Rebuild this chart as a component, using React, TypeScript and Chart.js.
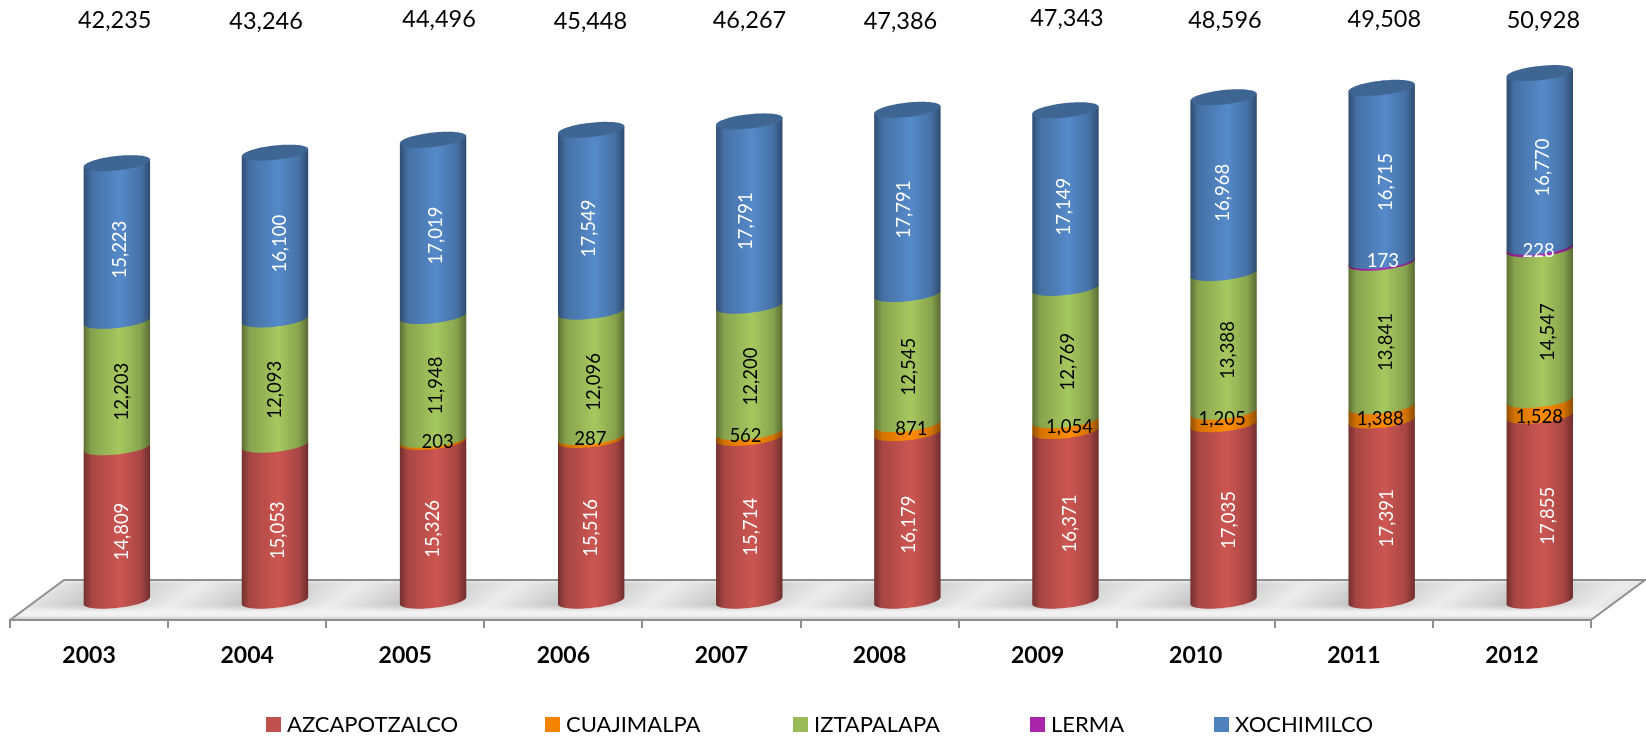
import React, { useEffect, useRef } from "react";
import { Chart, registerables } from "chart.js";

Chart.register(...registerables);

const years = ["2003", "2004", "2005", "2006", "2007", "2008", "2009", "2010", "2011", "2012"];
const azcapotzalco = [14809, 15053, 15326, 15516, 15714, 16179, 16371, 17035, 17391, 17855];
const cuajimalpa = [null, null, 203, 287, 562, 871, 1054, 1205, 1388, 1528];
const iztapalapa = [12203, 12093, 11948, 12096, 12200, 12545, 12769, 13388, 13841, 14547];
const lerma = [null, null, null, null, null, null, null, null, 173, 228];
const xochimilco = [15223, 16100, 17019, 17549, 17791, 17791, 17149, 16968, 16715, 16770];
const totals = [42235, 43246, 44496, 45448, 46267, 47386, 47343, 48596, 49508, 50928];

const seriesNames = ["AZCAPOTZALCO", "CUAJIMALPA", "IZTAPALAPA", "LERMA", "XOCHIMILCO"];
const seriesValues = [azcapotzalco, cuajimalpa, iztapalapa, lerma, xochimilco];
const seriesColors = ["#C0504D", "#F38300", "#9BBB59", "#A824A8", "#4F81BD"];
const labelColors = ["#ffffff", "#000000", "#000000", "#ffffff", "#ffffff"];

// Hand-placement of the labels in the reference (layout only, not data).
const labelNudgeX = [
  [5.3, 3, 0.2, -0.5, 1.6, 2.1, 4.4, 5, 5.1, 8.6],
  [0, 0, 4.5, -0.8, -3.8, 3.9, 4, -1.4, -1.4, -0.4],
  [5.2, 0.1, 2.7, 2.8, 2.2, 1.7, 2.6, 4.7, 4.6, 7.9],
  [0, 0, 0, 0, 0, 0, 0, 0, 1.2, -1.1],
  [2.8, 5.5, 2.7, -2.5, -3.4, -3, -1, -0.7, 4.6, 2.9],
];
const labelNudgeY = [
  [7.6, 7.6, 7.6, 7.6, 7.6, 7.6, 7.6, 7.6, 7.6, 7.6],
  [0, 0, 0.9, 0.8, 0.7, 0.7, 1, 0.7, 6, 8.9],
  [7.6, 7.6, 7.6, 7.6, 7.6, 7.6, 7.6, 7.6, 7.6, 7.6],
  [0, 0, 0, 0, 0, 0, 0, 0, -1.2, 3.3],
  [7.6, 7.6, 7.6, 7.6, 7.6, 7.6, 7.6, 7.6, 7.6, 7.6],
];
const totalNudgeX = [-2.2, -8.9, 6, -0.8, 0.2, -6.9, 1.5, 1.4, 2.6, 3.6];
const totalY = [20, 21.7, 19, 21, 20, 21.7, 18.7, 20.7, 19, 20.7];
const legendX = [266, 545, 793, 1030, 1214];

const FONT = "Lato";
const DEPTH_X = 54;
const DEPTH_Y = 40;
const ELL_RY = 7.2;
const ELL_SHEAR = -0.106;

function shade(hex: string, f: number) {
  const n = parseInt(hex.slice(1), 16);
  const c = (v: number) => Math.max(0, Math.min(255, Math.round(v * f)));
  return `rgb(${c((n >> 16) & 255)},${c((n >> 8) & 255)},${c(n & 255)})`;
}

const cylinderPlugin = {
  id: "cylinders",
  beforeDraw(chart: any) {
    const { ctx, chartArea: a, scales } = chart;
    const bottom = a.bottom;
    const backY = bottom - DEPTH_Y;
    const slope = DEPTH_X / DEPTH_Y;
    ctx.save();
    ctx.beginPath();
    ctx.moveTo(a.left, bottom);
    ctx.lineTo(a.left + DEPTH_X, backY);
    ctx.lineTo(a.right + DEPTH_X, backY);
    ctx.lineTo(a.right, bottom);
    ctx.closePath();
    ctx.clip();
    const step = scales.x.getPixelForValue(1) - scales.x.getPixelForValue(0);
    ctx.save();
    ctx.transform(1, 0, -slope, 1, slope * bottom, 0);
    years.forEach((_, i) => {
      const x0 = a.left + step * i;
      const g = ctx.createLinearGradient(x0, 0, x0 + step, 0);
      g.addColorStop(0, "#e4e4e4");
      g.addColorStop(0.4, "#bfbfbf");
      g.addColorStop(0.9, "#ececec");
      g.addColorStop(1, "#e4e4e4");
      ctx.fillStyle = g;
      ctx.fillRect(x0 - 0.5, backY, step + 1, DEPTH_Y);
    });
    ctx.restore();
    const v = ctx.createLinearGradient(0, backY, 0, bottom);
    v.addColorStop(0, "rgba(235,235,235,0.9)");
    v.addColorStop(0.12, "rgba(235,235,235,0.1)");
    v.addColorStop(0.62, "rgba(240,240,240,0)");
    v.addColorStop(0.8, "rgba(243,243,243,1)");
    v.addColorStop(0.9, "rgba(240,240,240,1)");
    v.addColorStop(1, "rgba(195,195,195,1)");
    ctx.fillStyle = v;
    ctx.fillRect(a.left, backY, a.right + DEPTH_X - a.left, DEPTH_Y);
    ctx.restore();

    ctx.save();
    ctx.strokeStyle = "#8f8f8f";
    ctx.lineWidth = 2;
    ctx.beginPath();
    ctx.moveTo(a.left, bottom);
    ctx.lineTo(a.left + DEPTH_X, backY);
    ctx.lineTo(a.right + DEPTH_X, backY);
    ctx.lineTo(a.right, bottom);
    ctx.stroke();
    ctx.restore();
  },
  beforeDatasetDraw() {
    return false;
  },
  afterDatasetsDraw(chart: any) {
    const { ctx, scales } = chart;
    const step = scales.x.getPixelForValue(1) - scales.x.getPixelForValue(0);
    const dx = step * 0.176;
    const metas = seriesValues.map((_, d) => chart.getDatasetMeta(d));

    years.forEach((_, i) => {
      let lastTop = 0;
      let lastRx = 0;
      let lastCx = 0;
      seriesValues.forEach((vals, d) => {
        if (vals[i] == null) return;
        const el = metas[d].data[i].getProps(["x", "y", "base", "width"], true);
        const cx = el.x + dx;
        const rx = el.width / 2;
        const top = el.y;
        const bot = el.base;
        const base = seriesColors[d];
        const g = ctx.createLinearGradient(cx - rx, 0, cx + rx, 0);
        g.addColorStop(0, shade(base, 0.6));
        g.addColorStop(0.12, shade(base, 0.87));
        g.addColorStop(0.55, shade(base, 1.07));
        g.addColorStop(0.86, shade(base, 0.87));
        g.addColorStop(1, shade(base, 0.58));
        ctx.beginPath();
        ctx.moveTo(cx - rx, top - ELL_SHEAR * rx);
        for (let k = 0; k <= 40; k++) {
          const t = Math.PI - (Math.PI * k) / 40;
          const px = rx * Math.cos(t);
          ctx.lineTo(cx + px, bot + ELL_RY * Math.sin(t) + ELL_SHEAR * px);
        }
        ctx.lineTo(cx + rx, top + ELL_SHEAR * rx);
        ctx.closePath();
        ctx.fillStyle = g;
        ctx.fill();
        lastTop = top;
        lastRx = rx;
        lastCx = cx;
      });
      ctx.beginPath();
      for (let k = 0; k <= 80; k++) {
        const t = (2 * Math.PI * k) / 80;
        const px = lastRx * Math.cos(t);
        const py = lastTop + ELL_RY * Math.sin(t) + ELL_SHEAR * px;
        if (k === 0) ctx.moveTo(lastCx + px, py);
        else ctx.lineTo(lastCx + px, py);
      }
      ctx.closePath();
      ctx.fillStyle = "#3F6693";
      ctx.fill();
    });

    // value labels
    ctx.textAlign = "center";
    ctx.textBaseline = "middle";
    years.forEach((_, i) => {
      seriesValues.forEach((vals, d) => {
        const v = vals[i];
        if (v == null) return;
        const el = metas[d].data[i].getProps(["x", "y", "base"], true);
        const x = el.x + dx + labelNudgeX[d][i];
        const y = (el.y + el.base) / 2 + labelNudgeY[d][i];
        const text = v.toLocaleString("en-US");
        ctx.fillStyle = labelColors[d];
        ctx.font = `18.5px ${FONT}`;
        if (d === 1 || d === 3) {
          ctx.fillText(text, x, y);
        } else {
          ctx.save();
          ctx.translate(x, y);
          ctx.rotate(-Math.PI / 2);
          ctx.fillText(text, 0, 0);
          ctx.restore();
        }
      });
      // totals over each column
      ctx.fillStyle = "#000000";
      ctx.font = `23.5px ${FONT}`;
      ctx.fillText(totals[i].toLocaleString("en-US"), scales.x.getPixelForValue(i) + dx + totalNudgeX[i], totalY[i]);
    });

    // legend
    ctx.textAlign = "left";
    ctx.font = `22px ${FONT}`;
    seriesNames.forEach((name, d) => {
      ctx.fillStyle = seriesColors[d];
      ctx.fillRect(legendX[d], 717, 15, 15);
      ctx.fillStyle = "#000000";
      ctx.fillText(name, legendX[d] + 21, 724.5);
    });
  },
};

export default function App() {
  const ref = useRef<HTMLCanvasElement | null>(null);
  useEffect(() => {
    if (!ref.current) return;
    const chart = new Chart(ref.current, {
      type: "bar",
      data: {
        labels: years,
        datasets: seriesNames.map((name, d) => ({
          label: name,
          data: seriesValues[d],
          backgroundColor: seriesColors[d],
          barPercentage: 0.42,
          categoryPercentage: 1,
        })),
      },
      options: {
        responsive: false,
        animation: false,
        layout: { padding: { left: 10, right: 55, top: 0, bottom: 57 } },
        plugins: { legend: { display: false }, tooltip: { enabled: false } },
        scales: {
          x: {
            stacked: true,
            afterFit: (s: any) => {
              s.height = 60;
            },
            grid: { drawOnChartArea: false, color: "#8f8f8f", lineWidth: 2, tickLength: 8 },
            border: { color: "#8f8f8f", width: 2 },
            ticks: {
              color: "#000000",
              padding: 14,
              maxRotation: 0,
              font: { family: FONT, size: 23, weight: "bold" },
            },
          },
          y: { stacked: true, display: false, min: -1863, max: 57983 },
        },
      },
      plugins: [cylinderPlugin],
    } as any);
    return () => chart.destroy();
  }, []);
  return (
    <div style={{ position: "absolute", left: 0, top: 0, width: 1646, height: 737, background: "#fff", overflow: "hidden" }}>
      <canvas ref={ref} width={1646} height={737} style={{ display: "block" }} />
    </div>
  );
}
